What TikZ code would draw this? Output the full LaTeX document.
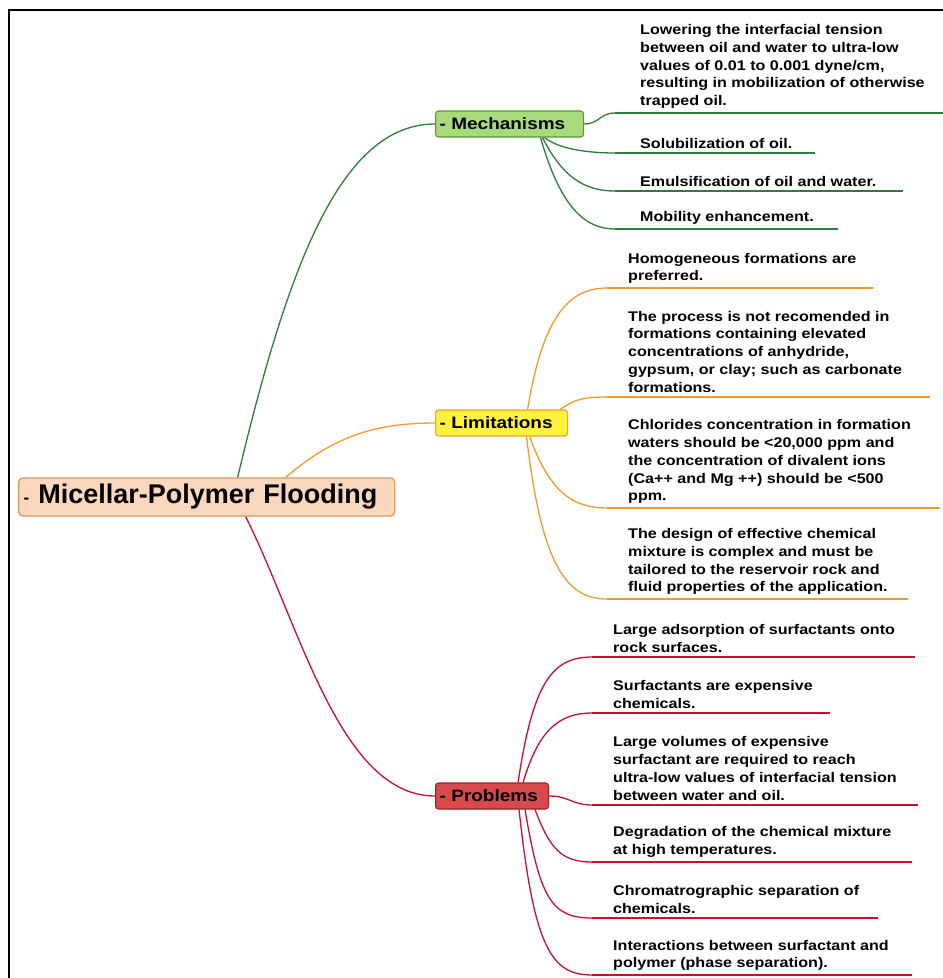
\documentclass[tikz,border=0pt]{standalone}
\usepackage{fontspec}
\setmainfont{Liberation Sans}
\newfontfamily\widefamily[FakeStretch=1.15]{Liberation Sans}
\usepackage{xcolor}
\usetikzlibrary{calc, positioning}

\definecolor{rootfill}{HTML}{FAD8BD}
\definecolor{rootdraw}{HTML}{D9995F}
\definecolor{mechfill}{HTML}{A8DA7C}
\definecolor{mechdraw}{HTML}{4E9A2E}
\definecolor{mechline}{HTML}{2E7D3A}
\definecolor{limfill}{HTML}{FFF23C}
\definecolor{limdraw}{HTML}{E9A232}
\definecolor{limline}{HTML}{F29A2E}
\definecolor{probfill}{HTML}{D8494C}
\definecolor{probdraw}{HTML}{A21E24}
\definecolor{probline}{HTML}{C8102E}

\newcommand{\leaffont}{\widefamily\fontsize{14}{17.9}\selectfont\bfseries}

\begin{document}
\begin{tikzpicture}[x=1pt,y=-1pt,
                    root node/.style={draw=rootdraw,fill=rootfill,rounded corners=4pt,line width=1.3pt,
                                      font=\fontsize{27}{30}\selectfont\bfseries,minimum height=38pt,
                                      inner xsep=5pt,align=left,anchor=west},
                    branch node/.style={rounded corners=3pt,line width=1.1pt,
                                        font=\widefamily\fontsize{16.5}{18}\selectfont\bfseries,minimum height=26pt,
                                        inner xsep=4pt,align=left,anchor=west},
                    leaf/.style={font=\leaffont,align=left,anchor=south west,inner sep=0pt},
                    link/.style={line width=1.3pt},
                    rule/.style={line width=2pt}]

  \useasboundingbox (0,0) rectangle (943,978);
  \draw[line width=2pt] (9,978) -- (9,10) -- (943,10);

  % main topic and branches
  \node[root node,text width=366pt] (root) at (18,497) {{\fontsize{17}{17}\selectfont-}\hspace{9pt}Micellar-Polymer Flooding};
  \node[branch node,draw=mechdraw,fill=mechfill,text width=140pt] (mech) at (435,124) {- Mechanisms};
  \node[branch node,draw=limdraw,fill=limfill,text width=124pt] (limit) at (435,423) {- Limitations};
  \node[branch node,draw=probdraw,fill=probfill,text width=105pt] (prob) at (435,796) {- Problems};

  \draw[link,mechline] ([xshift=31pt]root.north) .. controls +(50,-210) and +(-95,0) .. (mech.west);
  \draw[link,limline] ([xshift=79pt]root.north) .. controls +(45,-38) and +(-65,0) .. (limit.west);
  \draw[link,probline] ([xshift=39pt]root.south) .. controls +(55,110) and +(-95,0) .. (prob.west);

  % mechanisms
  \coordinate (m1s) at (615,113); \coordinate (m1e) at (943,113);
  \coordinate (m2s) at (615,153); \coordinate (m2e) at (815,153);
  \coordinate (m3s) at (615,191); \coordinate (m3e) at (903,191);
  \coordinate (m4s) at (615,229); \coordinate (m4e) at (838,229);

  \node[leaf] (m1) at (640,109) {Lowering the interfacial tension\\between oil and water to ultra-low\\values of 0.01 to 0.001 dyne/cm,\\resulting in mobilization of otherwise\\trapped oil.};
  \node[leaf] (m2) at (640,149) {Solubilization of oil.};
  \node[leaf] (m3) at (640,187) {Emulsification of oil and water.};
  \node[leaf] (m4) at (640,225) {Mobility enhancement.};

  \draw[link,mechline] (mech.east) .. controls +(15,0) and +(-15,0) .. (m1s);
  \draw[link,mechline] ([xshift=35pt]mech.south) .. controls +(15,12) and +(-25,0) .. (m2s);
  \draw[link,mechline] ([xshift=33pt]mech.south) .. controls +(20,40) and +(-30,0) .. (m3s);
  \draw[link,mechline] ([xshift=31pt]mech.south) .. controls +(20,70) and +(-30,0) .. (m4s);
  \draw[rule,mechline] (m1s) -- (m1e) (m2s) -- (m2e) (m3s) -- (m3e) (m4s) -- (m4e);

  % limitations
  \coordinate (l1s) at (607,288); \coordinate (l1e) at (873,288);
  \coordinate (l2s) at (607,397); \coordinate (l2e) at (930,397);
  \coordinate (l3s) at (607,508); \coordinate (l3e) at (940,508);
  \coordinate (l4s) at (607,599); \coordinate (l4e) at (908,599);

  \node[leaf] (l1) at (628,284) {Homogeneous formations are\\preferred.};
  \node[leaf] (l2) at (628,393) {The process is not recomended in\\formations containing elevated\\concentrations of anhydride,\\gypsum, or clay; such as carbonate\\formations.};
  \node[leaf] (l3) at (628,504) {Chlorides concentration in formation\\waters should be <20,000 ppm and\\the concentration of divalent ions\\(Ca++ and Mg ++) should be <500\\ppm.};
  \node[leaf] (l4) at (628,595) {The design of effective chemical\\mixture is complex and must be\\tailored to the reservoir rock and\\fluid properties of the application.};

  \draw[link,limline] ([xshift=26pt]limit.north) .. controls +(15,-90) and +(-40,0) .. (l1s);
  \draw[link,limline] ([xshift=-8pt]limit.north east) .. controls +(15,-10) and +(-25,0) .. (l2s);
  \draw[link,limline] ([xshift=28pt]limit.south) .. controls +(20,55) and +(-35,0) .. (l3s);
  \draw[link,limline] ([xshift=25pt]limit.south) .. controls +(15,130) and +(-40,0) .. (l4s);
  \draw[rule,limline] (l1s) -- (l1e) (l2s) -- (l2e) (l3s) -- (l3e) (l4s) -- (l4e);

  % problems
  \coordinate (p1s) at (592,657); \coordinate (p1e) at (915,657);
  \coordinate (p2s) at (592,713); \coordinate (p2e) at (830,713);
  \coordinate (p3s) at (592,805); \coordinate (p3e) at (918,805);
  \coordinate (p4s) at (592,862); \coordinate (p4e) at (912,862);
  \coordinate (p5s) at (592,918); \coordinate (p5e) at (878,918);
  \coordinate (p6s) at (592,975); \coordinate (p6e) at (912,975);

  \node[leaf] (p1) at (613,653) {Large adsorption of surfactants onto\\rock surfaces.};
  \node[leaf] (p2) at (613,709) {Surfactants are expensive\\chemicals.};
  \node[leaf] (p3) at (613,801) {Large volumes of expensive\\surfactant are required to reach\\ultra-low values of interfacial tension\\between water and oil.};
  \node[leaf] (p4) at (613,858) {Degradation of the chemical mixture\\at high temperatures.};
  \node[leaf] (p5) at (613,914) {Chromatrographic separation of\\chemicals.};
  \node[leaf] (p6) at (613,971) {Interactions between surfactant and\\polymer (phase separation).};

  \draw[link,probline] ([xshift=26pt]prob.north) .. controls +(15,-100) and +(-40,0) .. (p1s);
  \draw[link,probline] ([xshift=31pt]prob.north) .. controls +(15,-50) and +(-35,0) .. (p2s);
  \draw[link,probline] (prob.east) .. controls +(20,0) and +(-20,0) .. (p3s);
  \draw[link,probline] ([xshift=43pt]prob.south) .. controls +(15,40) and +(-30,0) .. (p4s);
  \draw[link,probline] ([xshift=33pt]prob.south) .. controls +(15,90) and +(-40,0) .. (p5s);
  \draw[link,probline] ([xshift=27pt]prob.south) .. controls +(15,140) and +(-40,0) .. (p6s);
  \draw[rule,probline] (p1s) -- (p1e) (p2s) -- (p2e) (p3s) -- (p3e) (p4s) -- (p4e) (p5s) -- (p5e) (p6s) -- (p6e);

\end{tikzpicture}
\end{document}
